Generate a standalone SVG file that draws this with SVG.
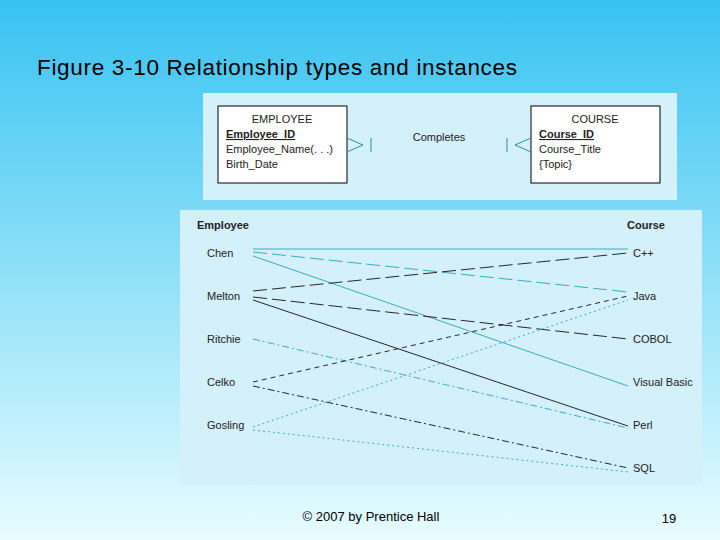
<svg xmlns="http://www.w3.org/2000/svg" width="720" height="540" viewBox="0 0 720 540">
<defs>
<linearGradient id="bg" x1="0" y1="0" x2="0" y2="1">
<stop offset="0" stop-color="#38c2f2"/><stop offset="0.5" stop-color="#8ee0f8"/><stop offset="1" stop-color="#e8fcff"/>
</linearGradient>
<style>
text{font-family:"Liberation Sans",Arial,sans-serif;fill:#222}
.s{font-size:11px}
.b{font-size:11px;font-weight:bold}
.c{stroke-width:0.9;fill:none}
.k{stroke:#111}.t{stroke:#2aa3b8}
</style>
</defs>
<rect width="720" height="540" fill="url(#bg)"/>
<text x="37" y="75" font-size="22.5" textLength="480" style="fill:#000">Figure 3-10 Relationship types and instances</text>
<rect x="203" y="93" width="474" height="107" fill="#d4f0fa"/>
<g id="employee"><rect x="218" y="106" width="129" height="77" fill="#fff" stroke="#000"/>
<text x="282" y="123" class="s" text-anchor="middle">EMPLOYEE</text>
<text x="226" y="138" class="b" text-decoration="underline">Employee_ID</text>
<text x="226" y="153" class="s">Employee_Name(. . .)</text>
<text x="226" y="168" class="s">Birth_Date</text></g>
<g id="course"><rect x="531" y="106" width="129" height="77" fill="#fff" stroke="#000"/>
<text x="595" y="123" class="s" text-anchor="middle">COURSE</text>
<text x="539" y="138" class="b" text-decoration="underline">Course_ID</text>
<text x="539" y="153" class="s">Course_Title</text>
<text x="539" y="168" class="s">{Topic}</text></g>
<g id="rel" stroke="#2a8fa8" fill="none">
<path d="M347,138 L363,145 L347,152 M371,138 V152 M531,138 L515,145 L531,152 M507,138 V152"/>
</g>
<text x="439" y="141" class="s" text-anchor="middle">Completes</text>
<rect x="180" y="210" width="522" height="275" fill="#d4f0fa"/>
<text x="197" y="229" class="b">Employee</text>
<text x="627" y="229" class="b">Course</text>
<g class="s">
<text x="207" y="257" class="s">Chen</text><text x="207" y="300" class="s">Melton</text>
<text x="207" y="343" class="s">Ritchie</text><text x="207" y="386" class="s">Celko</text>
<text x="207" y="429" class="s">Gosling</text>
<text x="633" y="257" class="s">C++</text><text x="633" y="300" class="s">Java</text>
<text x="633" y="343" class="s">COBOL</text><text x="633" y="386" class="s">Visual Basic</text>
<text x="633" y="429" class="s">Perl</text><text x="633" y="472" class="s">SQL</text>
</g>
<g id="connectors" class="c">
<line class="c t" x1="253" y1="249" x2="628" y2="249"/>
<line class="c t" x1="253" y1="252" x2="628" y2="292" stroke-dasharray="14,5"/>
<line class="c t" x1="253" y1="256" x2="628" y2="386"/>
<line class="c k" x1="253" y1="291" x2="628" y2="253" stroke-dasharray="14,5"/>
<line class="c k" x1="253" y1="297" x2="628" y2="339" stroke-dasharray="14,5"/>
<line class="c k" x1="253" y1="300" x2="628" y2="426"/>
<line class="c t" x1="253" y1="339" x2="628" y2="428" stroke-dasharray="7,3,2,3"/>
<line class="c k" x1="253" y1="382" x2="628" y2="296" stroke-dasharray="5,4"/>
<line class="c k" x1="253" y1="386" x2="628" y2="468" stroke-dasharray="7,3,2,3"/>
<line class="c t" x1="253" y1="427" x2="628" y2="300" stroke-dasharray="2,3" stroke-width="1.6"/>
<line class="c t" x1="253" y1="430" x2="628" y2="472" stroke-dasharray="2,3" stroke-width="1.6"/>
</g>
<text x="371" y="521" font-size="13" text-anchor="middle" style="fill:#000">© 2007 by Prentice Hall</text>
<text x="669" y="523" font-size="13" text-anchor="middle" style="fill:#000">19</text>
</svg>
